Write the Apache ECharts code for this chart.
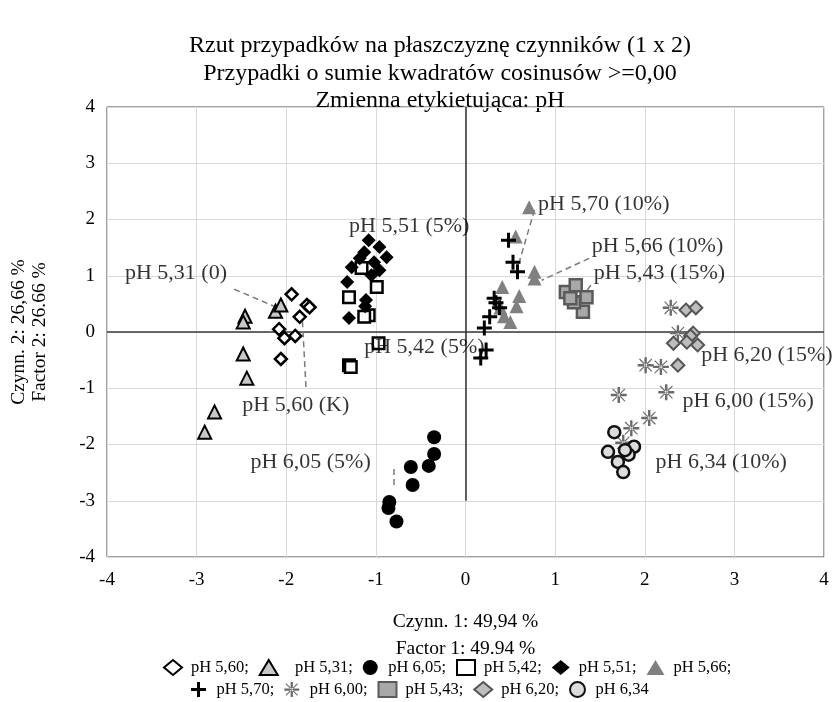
<!DOCTYPE html>
<html>
<head>
<meta charset="utf-8">
<script src="https://cdn.jsdelivr.net/npm/echarts@6/dist/echarts.min.js"></script>
<style>html,body{margin:0;padding:0;background:#fff;}#c{width:835px;height:702px;}</style>
</head>
<body>
<div id="c"></div>
<script>
// ---- data ----
const titleLines = ['Rzut przypadków na płaszczyznę czynników (1 x 2)', 'Przypadki o sumie kwadratów cosinusów >=0,00', 'Zmienna etykietująca: pH'];
const xAxisName = 'Czynn. 1: 49,94 %\nFactor 1: 49.94 %';
const yAxisName = 'Czynn. 2: 26,66 %\nFactor 2: 26.66 %';
const axisTicks = [-4, -3, -2, -1, 0, 1, 2, 3, 4];
const seriesNames = ['pH 5,60', 'pH 5,31', 'pH 6,05', 'pH 5,42', 'pH 5,51', 'pH 5,66', 'pH 5,70', 'pH 6,00', 'pH 5,43', 'pH 6,20', 'pH 6,34'];

const ph560 = [[-1.94,0.67],[-1.77,0.48],[-1.74,0.44],[-1.85,0.27],[-2.08,0.05],[-2.02,-0.11],[-1.90,-0.07],[-2.06,-0.48]];
const ph531 = [[-2.46,0.28],[-2.48,0.18],[-2.48,-0.39],[-2.44,-0.82],[-2.80,-1.42],[-2.91,-1.78],[-2.12,0.37],[-2.06,0.48]];
const ph605 = [[-0.35,-1.87],[-0.35,-2.17],[-0.41,-2.38],[-0.61,-2.40],[-0.59,-2.72],[-0.85,-3.02],[-0.86,-3.13],[-0.77,-3.37]];
const ph542 = [[-1.16,1.14],[-0.99,0.80],[-1.30,0.62],[-1.08,0.30],[-1.13,0.27],[-0.97,-0.20],[-1.30,-0.59],[-1.28,-0.62]];
const ph551 = [[-1.08,1.63],[-0.96,1.51],[-0.88,1.33],[-1.13,1.42],[-1.18,1.31],[-1.27,1.15],[-1.02,1.24],[-0.96,1.10],[-1.05,1.01],[-1.32,0.89],[-1.11,0.57],[-1.12,0.46],[-1.30,0.25]];
const ph566 = [[0.71,2.22],[0.56,1.70],[0.77,1.07],[0.77,0.95],[0.41,0.80],[0.60,0.64],[0.57,0.46],[0.39,0.43],[0.43,0.28],[0.50,0.18]];
const ph570 = [[0.48,1.63],[0.53,1.24],[0.58,1.07],[0.32,0.60],[0.34,0.52],[0.38,0.43],[0.27,0.27],[0.21,0.07],[0.23,-0.32],[0.17,-0.46]];
const ph600 = [[2.29,0.43],[2.37,-0.02],[2.01,-0.59],[2.18,-0.62],[1.71,-1.12],[2.24,-1.07],[2.05,-1.53],[1.85,-1.71],[1.76,-1.97]];
const ph543 = [[1.12,0.71],[1.23,0.83],[1.35,0.62],[1.31,0.36],[1.21,0.53],[1.17,0.60]];
const ph620 = [[2.46,0.39],[2.57,0.43],[2.54,-0.02],[2.51,-0.07],[2.32,-0.20],[2.47,-0.18],[2.59,-0.23],[2.37,-0.59]];
const ph634 = [[1.66,-1.78],[1.88,-2.04],[1.82,-2.18],[1.59,-2.13],[1.70,-2.31],[1.76,-2.49],[1.78,-2.10]];

// label annotations: text, label anchor (data coords), optional pointer line
const labelTexts = ['pH 5,31 (0)', 'pH 5,60 (K)', 'pH 5,51 (5%)', 'pH 5,42 (5%)', 'pH 6,05 (5%)', 'pH 5,70 (10%)', 'pH 5,66 (10%)', 'pH 5,43 (15%)', 'pH 6,20 (15%)', 'pH 6,00 (15%)', 'pH 6,34 (10%)'];
const labelAnchors = [[-3.80,1.05],[-2.49,-1.30],[-1.30,1.88],[-1.13,-0.27],[-2.40,-2.31],[0.81,2.27],[1.41,1.53],[1.43,1.05],[2.63,-0.41],[2.42,-1.23],[2.12,-2.31]];
const pointerLines = [
  [[-2.58,0.76],[-2.14,0.46]],
  [[-1.78,-0.98],[-1.82,0.21]],
  [[-0.80,-2.72],[-0.80,-2.42]],
  [[0.77,2.17],[0.59,1.19]],
  [[1.38,1.31],[0.85,0.92]],
  [[1.40,0.83],[1.27,0.57]]
];
const zeroLines = [[[-4,0],[4,0]], [[0,4],[0,-3]]];

// ---- chart ----
const SERIF = '"Liberation Serif", "Times New Roman", serif';
const plusPath = 'path://M-1.6,-8H1.6V-1.6H8V1.6H1.6V8H-1.6V1.6H-8V-1.6H-1.6Z';
const starPath = 'path://M-1.2,-8H1.2V-1.2H8V1.2H1.2V8H-1.2V1.2H-8V-1.2H-1.2Z M-6.6,-5.8L5.8,6.6L6.6,5.8L-5.8,-6.6Z M-6.6,5.8L-5.8,6.6L6.6,-5.8L5.8,-6.6Z';

const styles = {
  'pH 5,60': {symbol: 'diamond', symbolSize: 12, itemStyle: {color: '#fff', borderColor: '#000', borderWidth: 2.5}},
  'pH 5,31': {symbol: 'triangle', symbolSize: 13, itemStyle: {color: '#c8c8c8', borderColor: '#000', borderWidth: 2}},
  'pH 6,05': {symbol: 'circle', symbolSize: 14, itemStyle: {color: '#000'}},
  'pH 5,42': {symbol: 'rect', symbolSize: 11.5, itemStyle: {color: '#fff', borderColor: '#000', borderWidth: 2.5}},
  'pH 5,51': {symbol: 'diamond', symbolSize: 14, itemStyle: {color: '#000'}},
  'pH 5,66': {symbol: 'triangle', symbolSize: 14, itemStyle: {color: '#808080'}},
  'pH 5,70': {symbol: plusPath, symbolSize: 15, itemStyle: {color: '#000'}},
  'pH 6,00': {symbol: starPath, symbolSize: 16, itemStyle: {color: '#6a6a6a'}},
  'pH 5,43': {symbol: 'rect', symbolSize: 12, itemStyle: {color: '#a8a8a8', borderColor: '#5a5a5a', borderWidth: 2.5}},
  'pH 6,20': {symbol: 'diamond', symbolSize: 13, itemStyle: {color: '#bdbdbd', borderColor: '#555', borderWidth: 2}},
  'pH 6,34': {symbol: 'circle', symbolSize: 12, itemStyle: {color: '#dcdcdc', borderColor: '#111', borderWidth: 2.5}}
};
Object.keys(styles).forEach(k => { styles[k].itemStyle.opacity = 1; });
const dataSets = [ph560, ph531, ph605, ph542, ph551, ph566, ph570, ph600, ph543, ph620, ph634];

const scatterSeries = seriesNames.map((n, i) => Object.assign({
  type: 'scatter', name: n, data: dataSets[i], z: 3, animation: false
}, styles[n]));

const chart = echarts.init(document.getElementById('c'), null, {renderer: 'canvas'});
const legendFmt = n => (n === 'pH 6,34' ? n : (n === 'pH 5,31' ? '  ' + n + ';' : n + ';'));
const legendCommon = {
  orient: 'horizontal', itemWidth: 18, itemHeight: 15, itemGap: 10,
  textStyle: {fontFamily: SERIF, fontSize: 16.5, color: '#000', padding: [0, 0, 0, 4]},
  formatter: legendFmt, selectedMode: false
};
chart.setOption({
  animation: false,
  backgroundColor: '#fff',
  graphic: [{
    type: 'text', x: 440, y: 32,
    style: {text: titleLines.join('\n'), textAlign: 'center', fill: '#000', font: '24px ' + SERIF, lineHeight: 27.5}
  }],
  legend: [
    Object.assign({left: 158, top: 654, data: seriesNames.slice(0, 6)}, legendCommon),
    Object.assign({left: 186, top: 676, data: seriesNames.slice(6)}, legendCommon)
  ],
  grid: {left: 105, right: 11, top: 107, bottom: 145, show: true, borderColor: '#444', borderWidth: 1, backgroundColor: 'transparent'},
  xAxis: {
    type: 'value', min: axisTicks[0], max: axisTicks[axisTicks.length - 1], interval: 1,
    name: xAxisName, nameLocation: 'middle', nameGap: 51,
    nameTextStyle: {fontFamily: SERIF, fontSize: 19.5, color: '#000', lineHeight: 27},
    axisLine: {show: false}, axisTick: {show: false},
    axisLabel: {fontFamily: SERIF, fontSize: 19, color: '#000', margin: 14},
    splitLine: {show: true, lineStyle: {color: '#d9d9d9', width: 1}}
  },
  yAxis: {
    type: 'value', min: axisTicks[0], max: axisTicks[axisTicks.length - 1], interval: 1,
    name: yAxisName, nameLocation: 'middle', nameGap: 57, nameRotate: 90,
    nameTextStyle: {fontFamily: SERIF, fontSize: 19.5, color: '#000', lineHeight: 21},
    axisLine: {show: false}, axisTick: {show: false},
    axisLabel: {fontFamily: SERIF, fontSize: 19, color: '#000', margin: 12},
    splitLine: {show: true, lineStyle: {color: '#d9d9d9', width: 1}}
  },
  series: [
    {type: 'lines', coordinateSystem: 'cartesian2d', polyline: false, silent: true, z: 2,
     lineStyle: {color: '#3a3a3a', width: 1.6, opacity: 1},
     data: zeroLines.map(c => ({coords: c}))},
    {type: 'lines', coordinateSystem: 'cartesian2d', polyline: false, silent: true, z: 2,
     lineStyle: {color: '#7a7a7a', width: 1.5, type: [6, 4], opacity: 1},
     data: pointerLines.map(c => ({coords: c}))},
    ...scatterSeries,
    {type: 'scatter', name: 'labels', symbolSize: 0, silent: true, z: 10,
     data: labelAnchors.map((a, i) => ({value: a, name: labelTexts[i]})),
     label: {show: true, position: 'right', distance: 0, formatter: p => p.name,
       fontFamily: SERIF, fontSize: 22, color: '#000'}}
  ]
});
</script>
</body>
</html>
